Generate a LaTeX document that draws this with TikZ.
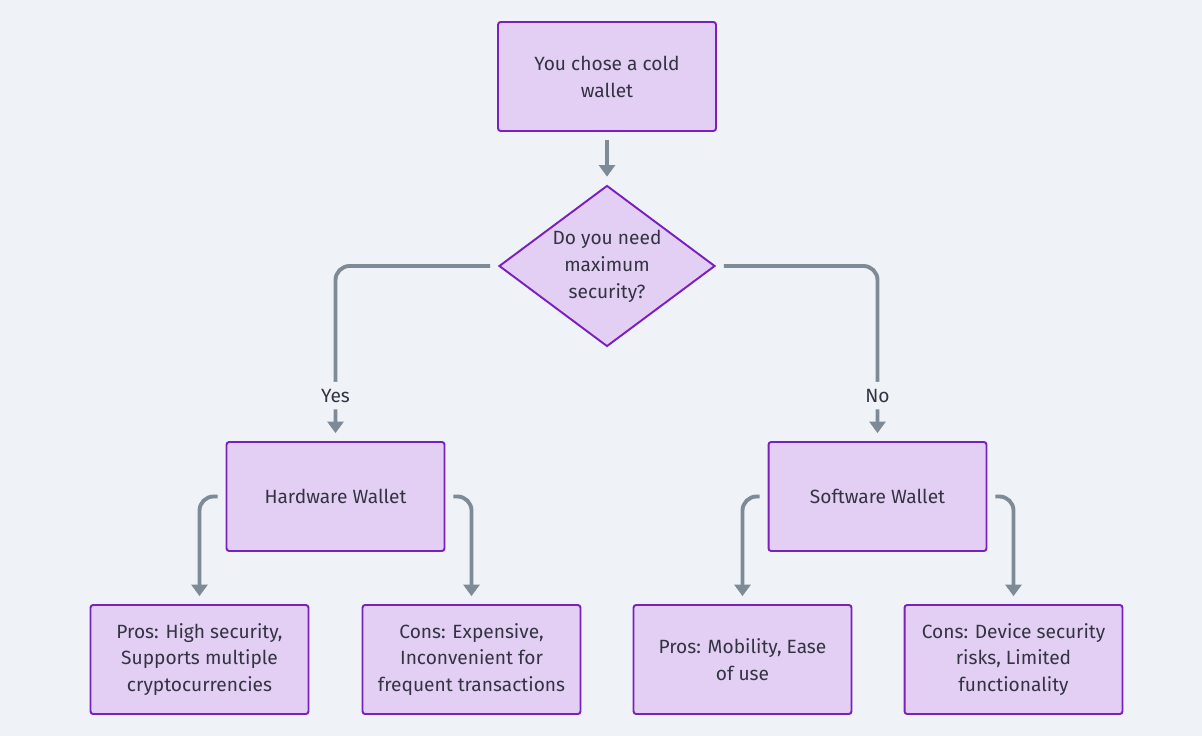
\documentclass[tikz,border=0pt]{standalone}
\usepackage{fontspec}
\setmainfont{Fira Sans}
\usepackage{tikz}
\usetikzlibrary{arrows.meta,positioning,shapes.geometric}
\definecolor{bgcolor}{HTML}{EFF3F7}
\definecolor{boxfill}{HTML}{E3CFF3}
\definecolor{boxline}{HTML}{7A1FC0}
\definecolor{linkgray}{HTML}{7E8A96}
\definecolor{textdark}{HTML}{333344}

\begin{document}
\begin{tikzpicture}[x=0.02cm,y=-0.02cm,
    every node/.style={text=textdark,font=\fontsize{10.9}{15.3}\selectfont},
    walletbox/.style={draw=boxline,fill=boxfill,line width=1.1pt,rounded corners=1.5pt,
      minimum width=4.36cm,minimum height=2.18cm,align=center},
    decision/.style={diamond,aspect=1.34,draw=boxline,fill=boxfill,line width=1.1pt,
      minimum width=4.32cm,minimum height=3.22cm,inner sep=0pt,align=center},
    link/.style={draw=linkgray,line width=2.2pt,rounded corners=8pt,
      -{Triangle[width=9pt,length=6.5pt]},shorten <=4.5pt,shorten >=4.5pt},
    answer/.style={fill=bgcolor,inner sep=4pt}]
  \fill[bgcolor] (0,0) rectangle (1202,736);
  \useasboundingbox (0,0) rectangle (1202,736);
  % start and question
  \node[walletbox] (cold) at (607,76.5) {You chose a cold\\wallet};
  \node[decision] (need) at (607,266) {Do you need\\maximum\\security?};
  % the two kinds
  \node[walletbox] (hard) at (335.5,496.5) {Hardware Wallet};
  \node[walletbox] (soft) at (877.5,496.5) {Software Wallet};
  % pros and cons
  \node[walletbox] (hardpros) at (199.5,659.5) {Pros: High security,\\Supports multiple\\cryptocurrencies};
  \node[walletbox] (hardcons) at (471.5,659.5) {Cons: Expensive,\\Inconvenient for\\frequent transactions};
  \node[walletbox] (softpros) at (742.5,659.5) {Pros: Mobility, Ease\\of use};
  \node[walletbox] (softcons) at (1013.5,659.5) {Cons: Device security\\risks, Limited\\functionality};
  \draw[link] (cold) -- (need);
  \draw[link] (need.west) -| (hard.north) node[answer,pos=0.87] {Yes};
  \draw[link] (need.east) -| (soft.north) node[answer,pos=0.87] {No};
  \draw[link] (hard.west) -| (hardpros.north);
  \draw[link] (hard.east) -| (hardcons.north);
  \draw[link] (soft.west) -| (softpros.north);
  \draw[link] (soft.east) -| (softcons.north);
\end{tikzpicture}
\end{document}
